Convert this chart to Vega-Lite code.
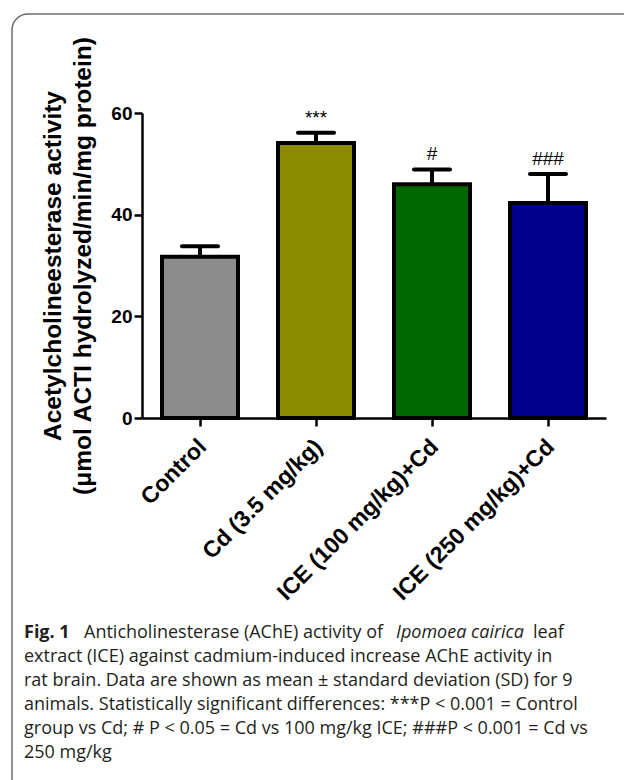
{
  "$schema": "https://vega.github.io/schema/vega-lite/v6.json",
  "width": 640,
  "height": 800,
  "autosize": "none",
  "padding": {"left": 12, "top": 14, "right": 0, "bottom": 0},
  "background": "white",
  "config": {
    "view": {"stroke": "#6b6b6b", "strokeWidth": 1.5, "cornerRadius": 16, "fill": "white"},
    "font": "Liberation Sans"
  },
  "datasets": {
    "bars": [
      {"group": "Control", "mean": 31.7, "upper": 33.8, "sig": ""},
      {"group": "Cd (3.5 mg/kg)", "mean": 54.1, "upper": 56.1, "sig": "***"},
      {"group": "ICE (100 mg/kg)+Cd", "mean": 46.0, "upper": 48.9, "sig": "#"},
      {"group": "ICE (250 mg/kg)+Cd", "mean": 42.3, "upper": 48.0, "sig": "###"}
    ],
    "caption": [
      {"line": 1, "part": "fig", "text": "Fig. 1"},
      {"line": 1, "part": "a", "text": "Anticholinesterase (AChE) activity of"},
      {"line": 1, "part": "it", "text": "Ipomoea cairica"},
      {"line": 1, "part": "b", "text": "leaf"},
      {"line": 2, "part": "body", "text": "extract (ICE) against cadmium-induced increase AChE activity in"},
      {"line": 3, "part": "body", "text": "rat brain. Data are shown as mean ± standard deviation (SD) for 9"},
      {"line": 4, "part": "body", "text": "animals. Statistically significant differences: ***P < 0.001 = Control"},
      {"line": 5, "part": "body", "text": "group vs Cd; # P < 0.05 = Cd vs 100 mg/kg ICE; ###P < 0.001 = Cd vs"},
      {"line": 6, "part": "body", "text": "250 mg/kg"}
    ]
  },
  "layer": [
    {
      "data": {"name": "bars"},
      "encoding": {
        "x": {
          "field": "group", "type": "nominal", "sort": null,
          "scale": {"range": [130, 594], "paddingInner": 0.345, "paddingOuter": 0.1725},
          "axis": {
            "title": null, "offset": -396,
            "domainColor": "black", "domainWidth": 2.5,
            "tickColor": "black", "tickWidth": 2.5, "tickSize": 8,
            "labelAngle": -45, "labelAlign": "right", "labelBaseline": "top",
            "labelFont": "Liberation Sans", "labelFontSize": 23, "labelFontWeight": "bold",
            "labelColor": "black", "labelPadding": 9, "labelOffset": -5, "labelLimit": 400
          }
        },
        "y": {
          "field": "mean", "type": "quantitative",
          "scale": {"domain": [0, 60], "range": [404, 99], "nice": false},
          "axis": {
            "title": ["Acetylcholineesterase activity", "(μmol ACTI hydrolyzed/min/mg protein)"],
            "values": [0, 20, 40, 60], "offset": -130, "grid": false,
            "domainColor": "black", "domainWidth": 2.5,
            "tickColor": "black", "tickWidth": 2.5, "tickSize": 8,
            "labelFont": "Liberation Sans", "labelFontSize": 19, "labelFontWeight": "bold",
            "labelColor": "black", "labelPadding": 2,
            "titleFont": "Liberation Sans", "titleFontSize": 24.5, "titleFontWeight": "bold",
            "titleColor": "black", "titlePadding": 15, "titleLineHeight": 30
          }
        }
      },
      "layer": [
        {
          "mark": {"type": "bar", "stroke": "black", "strokeWidth": 4},
          "encoding": {
            "color": {
              "field": "group", "type": "nominal", "sort": null, "legend": null,
              "scale": {"range": ["#8c8c8c", "#8c8c00", "#006800", "#00008c"]}
            }
          }
        },
        {
          "mark": {"type": "rule", "color": "black", "strokeWidth": 4},
          "encoding": {"y2": {"field": "upper"}}
        },
        {
          "mark": {"type": "tick", "color": "black", "orient": "horizontal", "size": 40, "thickness": 4, "cornerRadius": 2, "opacity": 1},
          "encoding": {"y": {"field": "upper", "type": "quantitative"}}
        },
        {
          "mark": {"type": "text", "baseline": "alphabetic", "dy": -9, "fontSize": 19, "font": "Liberation Sans", "color": "black"},
          "encoding": {"y": {"field": "upper", "type": "quantitative"}, "text": {"field": "sig"}}
        }
      ]
    },
    {
      "data": {"name": "caption"},
      "encoding": {
        "x": {"datum": 0, "type": "quantitative", "scale": {"domain": [0, 1], "range": [12, 600]}, "axis": null},
        "y": {"field": "line", "type": "quantitative", "scale": {"domain": [1, 6], "range": [624, 744]}, "axis": null},
        "text": {"field": "text"}
      },
      "layer": [
        {
          "transform": [{"filter": "datum.part === 'fig'"}],
          "mark": {"type": "text", "align": "left", "baseline": "alphabetic", "font": "Open Sans", "fontWeight": "bold", "fontSize": 18, "color": "#231f20"}
        },
        {
          "transform": [{"filter": "datum.part === 'a'"}],
          "mark": {"type": "text", "align": "left", "baseline": "alphabetic", "font": "Open Sans", "fontSize": 18, "color": "#231f20", "dx": 60}
        },
        {
          "transform": [{"filter": "datum.part === 'it'"}],
          "mark": {"type": "text", "align": "left", "baseline": "alphabetic", "font": "Open Sans", "fontStyle": "italic", "fontSize": 18, "color": "#231f20", "dx": 372}
        },
        {
          "transform": [{"filter": "datum.part === 'b'"}],
          "mark": {"type": "text", "align": "left", "baseline": "alphabetic", "font": "Open Sans", "fontSize": 18, "color": "#231f20", "dx": 509}
        },
        {
          "transform": [{"filter": "datum.part === 'body'"}],
          "mark": {"type": "text", "align": "left", "baseline": "alphabetic", "font": "Open Sans", "fontSize": 18, "color": "#231f20"}
        }
      ]
    }
  ],
  "resolve": {"scale": {"x": "independent", "y": "independent", "color": "independent"}}
}
